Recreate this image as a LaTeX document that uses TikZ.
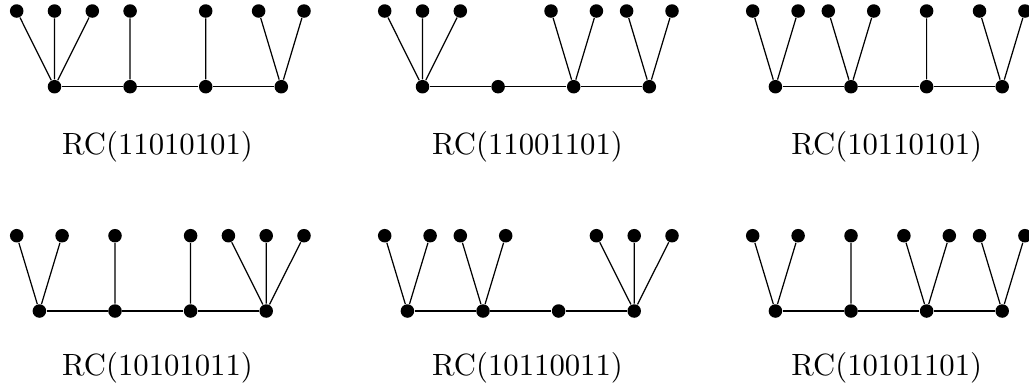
\documentclass[tikz,border=0pt]{standalone}
\begin{document}
\begin{tikzpicture}[x=0.32552pt,y=-0.32552pt,
  dot/.style={circle,fill=black,inner sep=0pt,minimum size=4.4pt},
  edge/.style={line width=0.4pt},
  lab/.style={anchor=base,inner sep=0pt,font=\fontsize{10}{12}\selectfont}]
\useasboundingbox (0,0) rectangle (1029,390);
% ---------- Graph 1: RC(11010101)
\node[dot] (a1) at (54.5,86.7) {};
\node[dot] (a2) at (130.1,86.7) {};
\node[dot] (a3) at (205.7,86.7) {};
\node[dot] (a4) at (281.3,86.7) {};
\node[dot] (a1l1) at (16.7,11) {};
\node[dot] (a1l2) at (54.5,11) {};
\node[dot] (a1l3) at (92.3,11) {};
\node[dot] (a2l1) at (130.1,11) {};
\node[dot] (a3l1) at (205.7,11) {};
\node[dot] (a4l1) at (258.6,11) {};
\node[dot] (a4l2) at (304,11) {};
\draw[edge] (a1)--(a2)--(a3)--(a4);
\draw[edge] (a1)--(a1l1) (a1)--(a1l2) (a1)--(a1l3) (a2)--(a2l1) (a3)--(a3l1) (a4)--(a4l1) (a4)--(a4l2);
\node[lab] (t1) at (157.5,154) {RC(11010101)};
% ---------- Graph 2: RC(11001101)
\node[dot] (b1) at (422.5,86.7) {};
\node[dot] (b2) at (498.1,86.7) {};
\node[dot] (b3) at (573.7,86.7) {};
\node[dot] (b4) at (649.3,86.7) {};
\node[dot] (b1l1) at (384.7,11) {};
\node[dot] (b1l2) at (422.5,11) {};
\node[dot] (b1l3) at (460.3,11) {};
\node[dot] (b3l1) at (551,11) {};
\node[dot] (b3l2) at (596.4,11) {};
\node[dot] (b4l1) at (626.6,11) {};
\node[dot] (b4l2) at (672,11) {};
\draw[edge] (b1)--(b2)--(b3)--(b4);
\draw[edge] (b1)--(b1l1) (b1)--(b1l2) (b1)--(b1l3) (b3)--(b3l1) (b3)--(b3l2) (b4)--(b4l1) (b4)--(b4l2);
\node[lab] (t2) at (527.5,154) {RC(11001101)};
% ---------- Graph 3: RC(10110101)
\node[dot] (c1) at (775.4,86.7) {};
\node[dot] (c2) at (851,86.7) {};
\node[dot] (c3) at (926.6,86.7) {};
\node[dot] (c4) at (1002.2,86.7) {};
\node[dot] (c1l1) at (752.7,11) {};
\node[dot] (c1l2) at (798.1,11) {};
\node[dot] (c2l1) at (828.3,11) {};
\node[dot] (c2l2) at (873.7,11) {};
\node[dot] (c3l1) at (926.6,11) {};
\node[dot] (c4l1) at (979.5,11) {};
\node[dot] (c4l2) at (1024.9,11) {};
\draw[edge] (c1)--(c2)--(c3)--(c4);
\draw[edge] (c1)--(c1l1) (c1)--(c1l2) (c2)--(c2l1) (c2)--(c2l2) (c3)--(c3l1) (c4)--(c4l1) (c4)--(c4l2);
\node[lab] (t3) at (886.7,154) {RC(10110101)};
% ---------- Graph 4: RC(10101011)
\node[dot] (d1) at (39.4,311) {};
\node[dot] (d2) at (115,311) {};
\node[dot] (d3) at (190.6,311) {};
\node[dot] (d4) at (266.2,311) {};
\node[dot] (d1l1) at (16.7,235.7) {};
\node[dot] (d1l2) at (62.1,235.7) {};
\node[dot] (d2l1) at (115,235.7) {};
\node[dot] (d3l1) at (190.6,235.7) {};
\node[dot] (d4l1) at (228.4,235.7) {};
\node[dot] (d4l2) at (266.2,235.7) {};
\node[dot] (d4l3) at (304,235.7) {};
\draw[edge] (d1)--(d2)--(d3)--(d4);
\draw[edge] (d1)--(d1l1) (d1)--(d1l2) (d2)--(d2l1) (d3)--(d3l1) (d4)--(d4l1) (d4)--(d4l2) (d4)--(d4l3);
\node[lab] (t4) at (157.5,375.5) {RC(10101011)};
% ---------- Graph 5: RC(10110011)
\node[dot] (e1) at (407.4,311) {};
\node[dot] (e2) at (483,311) {};
\node[dot] (e3) at (558.6,311) {};
\node[dot] (e4) at (634.2,311) {};
\node[dot] (e1l1) at (384.7,235.7) {};
\node[dot] (e1l2) at (430.1,235.7) {};
\node[dot] (e2l1) at (460.3,235.7) {};
\node[dot] (e2l2) at (505.7,235.7) {};
\node[dot] (e4l1) at (596.4,235.7) {};
\node[dot] (e4l2) at (634.2,235.7) {};
\node[dot] (e4l3) at (672,235.7) {};
\draw[edge] (e1)--(e2)--(e3)--(e4);
\draw[edge] (e1)--(e1l1) (e1)--(e1l2) (e2)--(e2l1) (e2)--(e2l2) (e4)--(e4l1) (e4)--(e4l2) (e4)--(e4l3);
\node[lab] (t5) at (527.5,375.5) {RC(10110011)};
% ---------- Graph 6: RC(10101101)
\node[dot] (f1) at (775.4,311) {};
\node[dot] (f2) at (851,311) {};
\node[dot] (f3) at (926.6,311) {};
\node[dot] (f4) at (1002.2,311) {};
\node[dot] (f1l1) at (752.7,235.7) {};
\node[dot] (f1l2) at (798.1,235.7) {};
\node[dot] (f2l1) at (851,235.7) {};
\node[dot] (f3l1) at (903.9,235.7) {};
\node[dot] (f3l2) at (949.3,235.7) {};
\node[dot] (f4l1) at (979.5,235.7) {};
\node[dot] (f4l2) at (1024.9,235.7) {};
\draw[edge] (f1)--(f2)--(f3)--(f4);
\draw[edge] (f1)--(f1l1) (f1)--(f1l2) (f2)--(f2l1) (f3)--(f3l1) (f3)--(f3l2) (f4)--(f4l1) (f4)--(f4l2);
\node[lab] (t6) at (886.7,375.5) {RC(10101101)};
\end{tikzpicture}
\end{document}
